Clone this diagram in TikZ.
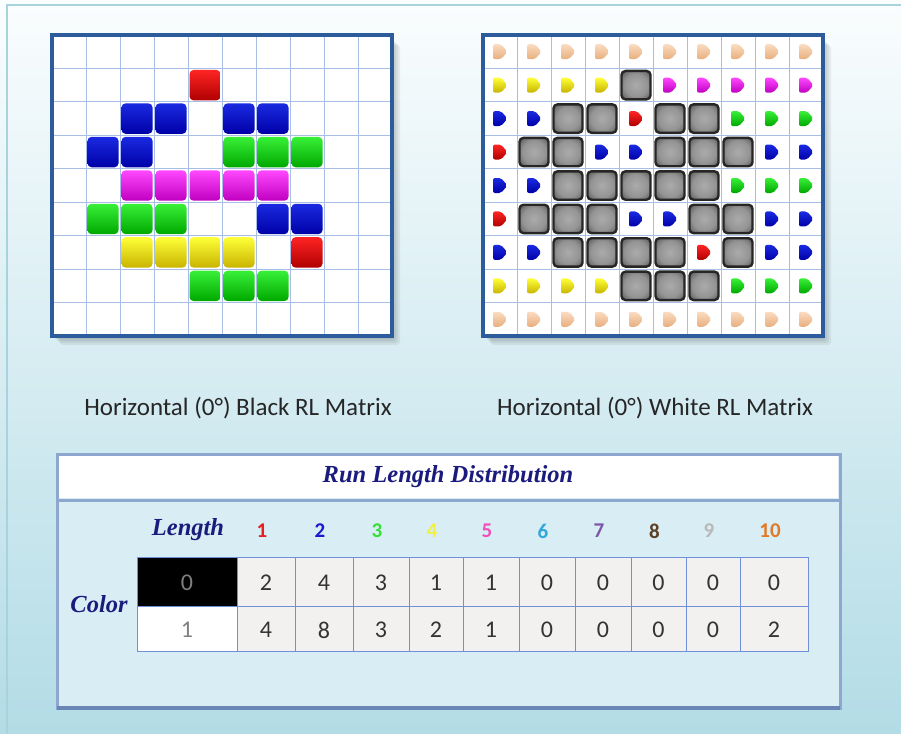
\documentclass[tikz,border=0pt]{standalone}
\usepackage{fontspec}
\setmainfont{Carlito}
\newfontfamily\headfont{Liberation Serif}
\usetikzlibrary{calc}

\definecolor{bgtop}{HTML}{FAFDFE}
\definecolor{bgbot}{HTML}{B3DCE6}
\definecolor{pageline}{HTML}{A6D3DC}
\definecolor{framecol}{HTML}{2D5C9C}
\definecolor{gridcol}{HTML}{A9BEE6}
\definecolor{rlR}{HTML}{FF2424}   \definecolor{rldkR}{HTML}{B00000}
\definecolor{rlB}{HTML}{1A2AE0}   \definecolor{rldkB}{HTML}{0000A8}
\definecolor{rlG}{HTML}{38F038}   \definecolor{rldkG}{HTML}{00A800}
\definecolor{rlY}{HTML}{FFFF38}   \definecolor{rldkY}{HTML}{C8B400}
\definecolor{rlM}{HTML}{FF48FF}   \definecolor{rldkM}{HTML}{C000C0}
\definecolor{rlP}{HTML}{FADCC0}   \definecolor{rldkP}{HTML}{E8AE7E}
\definecolor{panelbg}{HTML}{D8EDF4}
\definecolor{panelline}{HTML}{8EA7CE}
\definecolor{paneldark}{HTML}{6A86B5}
\definecolor{navy}{HTML}{1B1B7E}
\definecolor{cellline}{HTML}{6F8FD8}
\definecolor{cellbg}{HTML}{F3F1EF}
\definecolor{len1}{HTML}{E42020}
\definecolor{len2}{HTML}{1A1AD0}
\definecolor{len3}{HTML}{33E033}
\definecolor{len4}{HTML}{F2F040}
\definecolor{len5}{HTML}{F050B8}
\definecolor{len6}{HTML}{30A8D8}
\definecolor{len7}{HTML}{7A55A8}
\definecolor{len8}{HTML}{5E4025}
\definecolor{len9}{HTML}{B8B8B8}
\definecolor{len10}{HTML}{E07A28}

\pgfdeclareradialshading{blockglow}{\pgfpoint{0bp}{0bp}}{%
  color(0bp)=(black!33); color(20bp)=(black!42); color(40bp)=(black!74); color(50bp)=(black!86); color(71bp)=(black!88)}
\def\blockkey{K}

\tikzset{
    gridline/.style={gridcol, line width=1pt},
    gridframe/.style={draw=framecol, line width=3.5pt},
    block/.style={rounded corners=4pt},
    caption/.style={font=\fontsize{25}{30}\selectfont, text=black!85},
    headtext/.style={font=\headfont\bfseries\itshape\fontsize{24.5}{29}\selectfont, text=navy},
    lennum/.style={font=\bfseries\fontsize{21}{25}\selectfont},
    cellnum/.style={font=\fontsize{24}{28}\selectfont, text=black!80},
    tcell/.style={draw=cellline, line width=0.8pt}
}

\begin{document}
\begin{tikzpicture}[x=1pt, y=-1pt]
    \useasboundingbox (0,0) rectangle (901,733);
    \shade[top color=bgtop, bottom color=bgbot] (0,0) rectangle (901,733);
    \draw[pageline, line width=1.2pt] (7,733) -- (7,5) -- (901,5);

    % the two matrices
    \foreach \gx in {52,483} {
        \foreach \s in {2,4,6,8}
            \fill[black, opacity=0.06, rounded corners=3pt] ({\gx+\s},{37+\s}) rectangle ({\gx+340+\s},{337+\s});
        \fill[white] (\gx,35) rectangle ({\gx+340},336);
        \foreach \i in {1,...,9}
            \draw[gridline] ({\gx+34*\i},35) -- ({\gx+34*\i},336);
        \foreach \j in {1,...,8}
            \draw[gridline] (\gx,{35+33.45*\j}) -- ({\gx+340},{35+33.45*\j});
    }

    % black runs
    \foreach \c/\r/\k in {4/1/R, 2/2/B, 3/2/B, 5/2/B, 6/2/B,
                          1/3/B, 2/3/B, 5/3/G, 6/3/G, 7/3/G,
                          2/4/M, 3/4/M, 4/4/M, 5/4/M, 6/4/M,
                          1/5/G, 2/5/G, 3/5/G, 6/5/B, 7/5/B,
                          2/6/Y, 3/6/Y, 4/6/Y, 5/6/Y, 7/6/R,
                          4/7/G, 5/7/G, 6/7/G}
        \shade[block, top color=rl\k, bottom color=rldk\k]
            ({52+34*\c+1.5},{35+33.45*\r+1.5}) rectangle ++(31,30.4);

    % white runs
    \foreach \r/\row in {0/{P,P,P,P,P,P,P,P,P,P},
                         1/{Y,Y,Y,Y,K,M,M,M,M,M},
                         2/{B,B,K,K,R,K,K,G,G,G},
                         3/{R,K,K,B,B,K,K,K,B,B},
                         4/{B,B,K,K,K,K,K,G,G,G},
                         5/{R,K,K,K,B,B,K,K,B,B},
                         6/{B,B,K,K,K,K,R,K,B,B},
                         7/{Y,Y,Y,Y,K,K,K,G,G,G},
                         8/{P,P,P,P,P,P,P,P,P,P}} {
        \foreach \k [count=\c from 0] in \row {
            \ifx\k\blockkey
                \shadedraw[block, draw=black!85, line width=2.4pt, shading=blockglow]
                    ({483+34*\c+2.5},{35+33.45*\r+2.5}) rectangle ++(29,28.4);
            \else
                \shade[top color=rl\k, bottom color=rldk\k, rounded corners=2pt]
                    ({483+34*\c+17},{35+33.45*\r+16.7})
                    +(-7,-7.5) -- +(1,-7.5) -- +(7.5,0) -- +(1,7.5) -- +(-7,7.5) -- cycle;
            \fi
        }
    }

    \foreach \gx in {52,483}
        \draw[gridframe] (\gx,35) rectangle ({\gx+340},336);

    \node[caption] (capblack) at (238,408) {Horizontal (0°) Black RL Matrix};
    \node[caption] (capwhite) at (655,408) {Horizontal (0°) White RL Matrix};

    % distribution panel
    \draw[draw=panelline, line width=3pt, fill=panelbg] (57,454) rectangle (840,708);
    \fill[white] (59,456) rectangle (838,498);
    \draw[panelline, line width=3pt] (57,500) -- (840,500);
    \draw[paneldark, line width=3.5pt] (57,708) -- (840,708);
    \node[headtext] (title) at (448,477) {Run Length Distribution};
    \node[headtext] (lenlabel) at (188,530) {Length};
    \node[headtext] (collabel) at (99,604) {Color};

    \filldraw[tcell, fill=black] (137,557) rectangle (237,606);
    \filldraw[tcell, fill=white] (137,606) rectangle (237,651);
    \node[cellnum, text=black!50] (v0-0) at (187,583) {0};
    \node[cellnum, text=black!50] (v1-0) at (187,630) {1};
    \foreach \xa/\xb/\va/\vb [count=\i] in {237/295/2/4, 295/353/4/8, 353/409/3/3,
            409/463/1/2, 463/519/1/1, 519/575/0/0, 575/631/0/0,
            631/686/0/0, 686/740/0/0, 740/808/0/2} {
        \filldraw[tcell, fill=cellbg] (\xa,557) rectangle (\xb,606);
        \filldraw[tcell, fill=cellbg] (\xa,606) rectangle (\xb,651);
        \node[cellnum] (v0-\i) at ({(\xa+\xb)/2},583) {\va};
        \node[cellnum] (v1-\i) at ({(\xa+\xb)/2},630) {\vb};
        \node[lennum, text=len\i] (len-\i) at ({(\xa+\xb)/2-4},531) {\i};
    }
\end{tikzpicture}
\end{document}
